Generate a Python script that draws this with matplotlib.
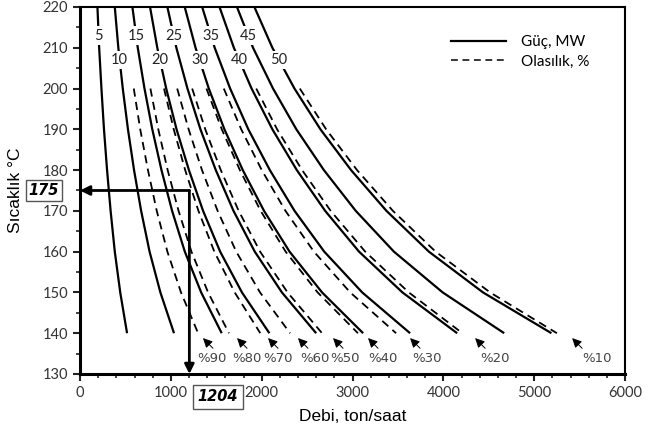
import numpy as np
import matplotlib
matplotlib.use("Agg")
import matplotlib.pyplot as plt
from matplotlib.lines import Line2D

# sicaklik seviyeleri (guc egrileri icin)
T_guc = [220, 210, 200, 190, 180, 170, 160, 150, 140]
# guc egrileri (MW) -> debi, ton/saat
guc = [5, 10, 15, 20, 25, 30, 35, 40, 45, 50]
debi_guc = [
    [192, 211, 236, 264, 298, 337, 383, 443, 518],
    [383, 422, 471, 528, 595, 673, 766, 885, 1035],
    [577, 636, 710, 796, 897, 1014, 1154, 1334, 1560],
    [771, 851, 949, 1063, 1199, 1355, 1543, 1783, 2085],
    [962, 1061, 1183, 1326, 1495, 1690, 1924, 2223, 2600],
    [1153, 1272, 1418, 1590, 1792, 2026, 2307, 2665, 3117],
    [1345, 1483, 1653, 1853, 2090, 2362, 2689, 3107, 3634],
    [1536, 1694, 1889, 2118, 2387, 2699, 3072, 3550, 4152],
    [1728, 1905, 2125, 2382, 2685, 3036, 3456, 3993, 4670],
    [1920, 2118, 2361, 2647, 2984, 3374, 3841, 4437, 5190],
]
# etiket sicakliklari (tek / cift)
T_etiket = [213, 207]

# olasilik egrileri
T_olas = [200, 190, 180, 170, 160, 150, 140]
olas = ["%90", "%80", "%70", "%60", "%50", "%40", "%30", "%20", "%10"]
debi_olas = [
    [592, 663, 748, 845, 962, 1112, 1300],
    [775, 862, 965, 1085, 1227, 1410, 1640],
    [925, 1032, 1158, 1304, 1479, 1703, 1985],
    [1070, 1196, 1343, 1515, 1720, 1982, 2313],
    [1235, 1379, 1550, 1747, 1983, 2285, 2665],
    [1392, 1561, 1760, 1989, 2264, 2616, 3060],
    [1583, 1775, 2001, 2262, 2575, 2975, 3480],
    [1940, 2170, 2445, 2760, 3140, 3620, 4210],
    [2420, 2710, 3050, 3445, 3915, 4515, 5250],
]
# ok ucu ve etiket konumlari
ok_x = [1354, 1729, 2070, 2400, 2786, 3171, 3634, 4350, 5418]
etiket_x = [1453, 1840, 2183, 2590, 2920, 3340, 3820, 4570, 5690]

# ornek okuma
ornek_debi = 1204
ornek_T = 175

fig = plt.figure(figsize=(6.52, 4.32), dpi=100)
ax = fig.add_axes([0.1227, 0.1343, 0.8359, 0.8495])

for p, xs in zip(guc, debi_guc):
    ax.plot(xs, T_guc, color="black", lw=1.6, solid_capstyle="butt")
for xs in debi_olas:
    ax.plot(xs, T_olas, color="black", lw=1.3, ls=(0, (4.5, 3)))

# guc etiketleri (beyaz kutu ile)
for i, (p, xs) in enumerate(zip(guc, debi_guc)):
    ty = T_etiket[i % 2]
    tx = np.interp(ty, T_guc[::-1], xs[::-1])
    ax.text(tx, ty, str(p), ha="center", va="center", fontsize=10.5,
            family="Lato", color="#222222",
            bbox=dict(boxstyle="square,pad=0.15", fc="white", ec="none"))

# olasilik etiketleri ve oklar
for lab, axx, ex in zip(olas, ok_x, etiket_x):
    ax.annotate("", xy=(axx, 138.8), xytext=(axx + 110, 136.3),
                arrowprops=dict(arrowstyle="-|>", color="black", lw=0.7,
                                mutation_scale=14, shrinkA=0, shrinkB=0))
    ax.text(ex, 133.9, lab, ha="center", va="center", fontsize=9.5,
            family="DejaVu Sans", color="#444444")

# ornek okuma oklari
ax.annotate("", xy=(0, ornek_T), xytext=(ornek_debi, ornek_T),
            arrowprops=dict(arrowstyle="-|>", color="black", lw=2,
                            mutation_scale=14, shrinkA=0, shrinkB=0))
ax.annotate("", xy=(ornek_debi, 130), xytext=(ornek_debi, ornek_T),
            arrowprops=dict(arrowstyle="-|>", color="black", lw=2,
                            mutation_scale=14, shrinkA=0, shrinkB=0))
ax.text(-400, ornek_T, str(ornek_T), ha="center", va="center", fontsize=10.5,
        weight="bold", style="italic", clip_on=False,
        bbox=dict(boxstyle="square,pad=0.2", fc="white", ec="#555555", lw=1))
ax.text(1520, 124.4, str(ornek_debi), ha="center", va="center", fontsize=10.5,
        weight="bold", style="italic", clip_on=False,
        bbox=dict(boxstyle="square,pad=0.3", fc="white", ec="#555555", lw=1))

ax.set_xlim(0, 6000)
ax.set_ylim(130, 220)
ax.set_xticks(range(0, 6001, 1000))
ax.set_xticks(range(0, 6001, 200), minor=True)
ax.set_yticks(range(130, 221, 10))
ax.set_yticks(range(130, 221, 5), minor=True)
ax.tick_params(axis="both", which="major", labelsize=10.5, length=5, width=1.5,
               color="#222222", labelcolor="#333333")
ax.tick_params(axis="both", which="minor", length=3, width=1.2, color="#222222")
for lab in ax.get_xticklabels() + ax.get_yticklabels():
    lab.set_family("Lato")

ax.spines["left"].set_linewidth(2.2)
ax.spines["bottom"].set_linewidth(2.2)
ax.spines["top"].set_linewidth(1.5)
ax.spines["right"].set_linewidth(1.5)

ax.set_xlabel("Debi, ton/saat", fontsize=12.5, family="Liberation Sans")
ax.set_ylabel("Sıcaklık °C", fontsize=12.5, family="Liberation Sans")
ax.xaxis.set_label_coords(0.5, -0.095)
ax.yaxis.set_label_coords(-0.104, 0.5)

handles = [Line2D([], [], color="black", lw=1.6),
           Line2D([], [], color="black", lw=1.1, ls=(0, (4.5, 3)))]
ax.legend(handles, ["Güç, MW", "Olasılık, %"], loc="upper right",
          bbox_to_anchor=(0.96, 0.96), frameon=False, handlelength=3.6,
          prop=dict(family="Lato", size=11), labelspacing=0.35, handletextpad=1.0)

fig.savefig("out.png", dpi=100)
